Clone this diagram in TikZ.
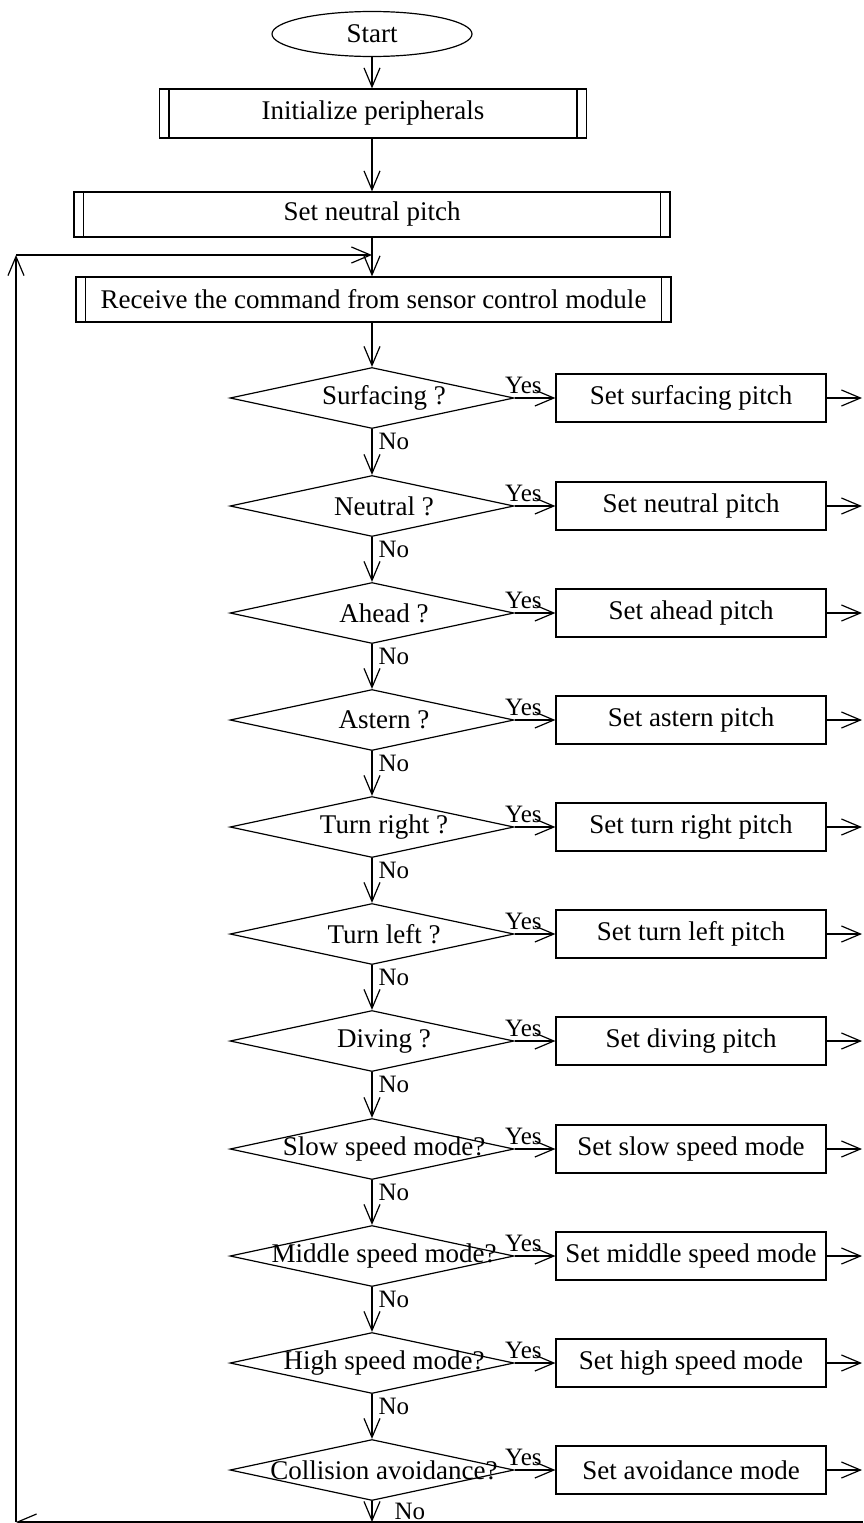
\documentclass[tikz,border=0pt]{standalone}
\usepackage{fontspec}
\setmainfont{Liberation Serif}
\usetikzlibrary{shapes.geometric,arrows.meta,calc}
\begin{document}
\begin{tikzpicture}[x=1pt,y=-1pt,
  line width=1.2pt,
  arr/.style={-{Straight Barb[length=19pt,width=16pt,line width=1.2pt]}},
  txt/.style={font=\fontsize{27}{31}\selectfont},
  lab/.style={font=\fontsize{25}{29}\selectfont, inner sep=0pt},
  proc/.style={draw, rectangle, minimum width=270pt, minimum height=48pt, inner sep=0pt, txt},
  subr/.style={draw, rectangle, inner sep=0pt, txt,
    path picture={
      \draw ([xshift=9.5pt]path picture bounding box.north west) -- ([xshift=9.5pt]path picture bounding box.south west);
      \draw ([xshift=-9.5pt]path picture bounding box.north east) -- ([xshift=-9.5pt]path picture bounding box.south east);
    }},
  dec/.style={draw, diamond, minimum width=284pt, minimum height=61pt, inner sep=0pt},
  term/.style={draw, ellipse, minimum width=200pt, minimum height=45pt, inner sep=0pt, txt}]
\useasboundingbox (0,0) rectangle (863,1523);
\clip (0,0) rectangle (863,1523);

\node[term] (start) at (372,34) {Start};
\node[subr, minimum width=427pt, minimum height=49pt] (init) at (373,113.5) {Initialize peripherals};
\node[subr, minimum width=596pt, minimum height=45pt] (setn) at (372,214.5) {Set neutral pitch};
\node[subr, minimum width=595pt, minimum height=45pt] (recv) at (373.5,299.5) {Receive the command from sensor control module};

\foreach \i/\q/\t/\yy in {
  1/Surfacing ?/Set surfacing pitch/398,
  2/Neutral ?/Set neutral pitch/506,
  3/Ahead ?/Set ahead pitch/613,
  4/Astern ?/Set astern pitch/720,
  5/Turn right ?/Set turn right pitch/827,
  6/Turn left ?/Set turn left pitch/934,
  7/Diving ?/Set diving pitch/1041,
  8/Slow speed mode?/Set slow speed mode/1149,
  9/Middle speed mode?/Set middle speed mode/1256,
  10/High speed mode?/Set high speed mode/1363,
  11/Collision avoidance?/Set avoidance mode/1470}{
  \node[dec, label={[txt, xshift=12pt]center:\q}] (d\i) at (372,\yy) {};
  \node[proc] (b\i) at (691,\yy) {\t};
  \coordinate (r\i) at (862,\yy);
  \draw[arr] (d\i.east) -- (b\i.west);
  \draw[arr] (b\i.east) -- (r\i);
  \node[lab, anchor=base west] at ($(d\i.east)+(-10,-5)$) {Yes};
}

\foreach \i/\j in {1/2,2/3,3/4,4/5,5/6,6/7,7/8,8/9,9/10,10/11}{
  \draw[arr] (d\i.south) -- (d\j.north);
  \node[lab, anchor=base west] at ($(d\i.south)+(6,20)$) {No};
}

\draw[arr] (start.south) -- (start.south |- init.north);
\draw[arr] (start.south |- init.south) -- (start.south |- setn.north);
\draw[arr] (start.south |- setn.south) -- (start.south |- recv.north);
\draw[arr] (start.south |- recv.south) -- (d1.north);

\coordinate (nb) at (372,1522);
\coordinate (br) at (863,1522);
\coordinate (bl) at (16,1522);
\coordinate (tl) at (16,255);
\coordinate (fb) at (372,255);
\draw[arr] (d11.south) -- (nb);
\node[lab, anchor=base west] at ($(d11.south)+(22,18)$) {No};
\draw[arr] (br) -- (bl);
\draw[arr] (bl) -- (tl);
\draw[arr] (tl) -- (fb);
\end{tikzpicture}
\end{document}
